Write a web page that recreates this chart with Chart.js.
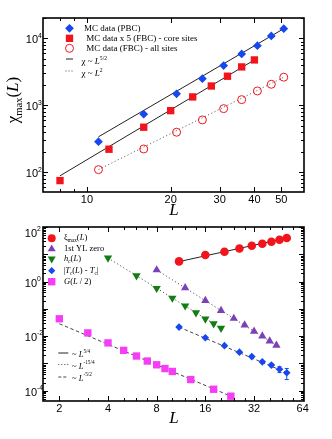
<!DOCTYPE html>
<html>
<head>
<meta charset="utf-8">
<script src="https://cdn.jsdelivr.net/npm/chart.js@4.4.1/dist/chart.umd.min.js"></script>
<style>
    html, body { margin: 0; padding: 0; background: #fff; }
    #wrap { position: relative; width: 332px; height: 439px; }
    .box { position: absolute; left: 0; width: 332px; }
    #top { top: 0; height: 220px; }
    #bot { top: 220px; height: 219px; }
</style>
</head>
<body>
<div id="wrap">
    <div class="box" id="top"><canvas id="chi-chart"></canvas></div>
    <div class="box" id="bot"><canvas id="scaling-chart"></canvas></div>
</div>
<script>
// ---- top panel: chi_max(L) ----
const L_pbc = [11, 16, 21, 26, 31, 36, 41, 46, 51];
const chi_pbc = [288, 740, 1490, 2510, 3930, 5870, 7810, 10900, 14000];
const L_fbc = [8, 12, 16, 20, 24, 28, 32, 36, 40];
const chi_fbc_core = [75.5, 222, 473, 836, 1340, 1950, 2730, 3760, 4780];
const chi_fbc_all = [110, 224, 398, 608, 896, 1220, 1645, 2070, 2640];
// fitted power laws (end points)
const fit52_pbc_L = [11, 51], fit52_pbc = [340, 14000];
const fit52_fbc_L = [8, 40], fit52_fbc = [89, 4780];
const fit2_L = [11, 51], fit2 = [110, 2640];
// ticks
const topXMajor = [10, 20, 30, 40, 50];
const topXMinor = [8, 9];
const topYMajor = [100, 1000, 10000];
const topYExp = ['2', '3', '4'];

// ---- bottom panel: scaling of several quantities ----
const L_xi = [11, 16, 21, 26, 31, 36, 41, 46, 51];
const xi_max = [5.5, 9.4, 12.4, 16.4, 20.6, 24.4, 28.8, 34.1, 39.4];
const L_yl = [8, 12, 16, 20, 24, 28, 32, 36, 40, 44];
const yl_zero = [2.67, 0.589, 0.203, 0.0875, 0.0447, 0.0254, 0.015, 0.0101, 0.00663, 0.00461];
const L_hc = [4, 6, 8, 10, 12, 14, 16, 18, 20];
const h_c = [7.33, 1.66, 0.569, 0.25, 0.13, 0.0727, 0.0428, 0.0286, 0.0196];
const L_tc = [11, 16, 21, 26, 31, 36, 41, 46, 51];
const tc_shift = [0.0215, 0.00881, 0.0045, 0.0026, 0.00179, 0.00115, 0.000874, 0.000614, 0.000458];
const tc_err = [0, 0, 0, 0, 0.0001, 0.0001, 0.00012, 0.00015, 0.0002];
const L_g = [2, 3, 4, 5, 6, 7, 8, 9, 10, 13, 18, 23];
const g_half = [0.0435, 0.0132, 0.00569, 0.00303, 0.00188, 0.00123, 0.000897, 0.000652, 0.000511, 0.000258, 0.000114, 0.0000635];
// fitted power laws (end points)
const fit54_L = [11, 51], fit54 = [5.4, 39.5];
const fitYl_L = [8, 44], fitYl = [2.67, 0.00461];
const fitHc_L = [4, 20], fitHc = [7.33, 0.0196];
const fitTc_L = [11, 51], fitTc = [0.0215, 0.000458];
const fitG_L = [2, 23.5], fitG = [0.0286, 0.0000602];
// ticks
const botXMajor = [2, 4, 8, 16, 32, 64];
const botXMinor = [3, 5, 6, 7, 10, 12, 14, 20, 24, 28, 40, 48, 56];
const botYLabeled = [100, 1, 0.01, 0.0001];
const botYExp = ['2', '0', '-2', '-4'];

const BLUE = '#1747ef', RED = '#f2141c', PURPLE = '#7c40b8', GREEN = '#127d12', MAGENTA = '#f53df5';
const SERIF = '"Liberation Serif", "Times New Roman", serif';
const SANS = '"Liberation Sans", Arial, sans-serif';

const pts = (xs, ys) => xs.map((x, i) => ({ x: x, y: ys[i] }));

// text made of pieces: flags i = italic, b = subscript, p = superscript
function richWidth(ctx, parts, size, fam) {
    let w = 0;
    parts.forEach(p => {
        const f = p[1] || '';
        const s = /[bp]/.test(f) ? size * 0.62 : size;
        ctx.font = (f.includes('i') ? 'italic ' : '') + s + 'px ' + fam;
        w += ctx.measureText(p[0]).width;
    });
    return w;
}
function drawRich(ctx, parts, x, y, size, fam, align) {
    let cx = x;
    if (align === 'right') cx = x - richWidth(ctx, parts, size, fam);
    if (align === 'center') cx = x - richWidth(ctx, parts, size, fam) / 2;
    ctx.textAlign = 'left';
    ctx.textBaseline = 'middle';
    parts.forEach(p => {
        const f = p[1] || '';
        const s = /[bp]/.test(f) ? size * 0.62 : size;
        ctx.font = (f.includes('i') ? 'italic ' : '') + s + 'px ' + fam;
        const dy = f.includes('b') ? size * 0.32 : f.includes('p') ? -size * 0.42 : 0;
        ctx.fillText(p[0], cx, y + dy);
        cx += ctx.measureText(p[0]).width;
    });
}

function decadeMinors(lo, hi) {
    const out = [];
    for (let e = Math.floor(Math.log10(lo)); e <= Math.ceil(Math.log10(hi)); e++) {
        for (let m = 2; m <= 9; m++) {
            const v = m * Math.pow(10, e);
            if (v > lo && v < hi) out.push(v);
        }
    }
    return out;
}

// frame, inward ticks, tick labels, titles and legends
const framePlugin = {
    id: 'frame',
    beforeDatasetsDraw(chart, args, o) {
        if (!o.errors) return;
        const ctx = chart.ctx, xs = chart.scales.x, ys = chart.scales.y;
        ctx.save();
        ctx.strokeStyle = o.errors.color;
        ctx.lineWidth = 1;
        o.errors.x.forEach((lx, i) => {
            const e = o.errors.err[i];
            if (!e) return;
            const v = o.errors.y[i];
            const px = xs.getPixelForValue(lx);
            const y1 = ys.getPixelForValue(v + e), y2 = ys.getPixelForValue(v - e);
            ctx.beginPath();
            ctx.moveTo(px, y1); ctx.lineTo(px, y2);
            ctx.moveTo(px - 2, y1); ctx.lineTo(px + 2, y1);
            ctx.moveTo(px - 2, y2); ctx.lineTo(px + 2, y2);
            ctx.stroke();
        });
        ctx.restore();
    },
    afterDatasetsDraw(chart, args, o) {
        const ctx = chart.ctx, a = chart.chartArea, xs = chart.scales.x, ys = chart.scales.y;
        ctx.save();
        ctx.strokeStyle = '#000';
        ctx.fillStyle = '#000';
        ctx.lineWidth = 1;
        const xTick = (v, len) => {
            const px = Math.round(xs.getPixelForValue(v)) + 0.5;
            ctx.beginPath();
            ctx.moveTo(px, a.bottom); ctx.lineTo(px, a.bottom - len);
            ctx.moveTo(px, a.top); ctx.lineTo(px, a.top + len);
            ctx.stroke();
        };
        const yTick = (v, len) => {
            const py = Math.round(ys.getPixelForValue(v)) + 0.5;
            ctx.beginPath();
            ctx.moveTo(a.left, py); ctx.lineTo(a.left + len, py);
            ctx.moveTo(a.right, py); ctx.lineTo(a.right - len, py);
            ctx.stroke();
        };
        o.xMajor.forEach(v => xTick(v, 5));
        o.xMinor.forEach(v => xTick(v, 3));
        o.yMajor.forEach(v => yTick(v, 5));
        decadeMinors(ys.min, ys.max).forEach(v => yTick(v, 3));
        ctx.lineWidth = 1.6;
        ctx.strokeRect(a.left, a.top, a.right - a.left, a.bottom - a.top);

        // tick labels
        o.xMajor.forEach(v => {
            drawRich(ctx, [[String(v)]], xs.getPixelForValue(v), a.bottom + 8, 11, SANS, 'center');
        });
        o.yLabels.forEach((v, i) => {
            const py = Math.max(ys.getPixelForValue(v) + 2, a.top + 7);
            drawRich(ctx, [['10']], o.yLabelX, py, 11, SANS, 'right');
            drawRich(ctx, [[o.yExp[i], 'p']], o.yLabelX, py, 11, SANS, 'left');
        });

        // axis titles
        drawRich(ctx, [['L', 'i']], o.xTitle[0], o.xTitle[1], 17, SERIF, 'center');
        if (o.yTitle) {
            ctx.save();
            ctx.translate(o.yTitle.x, o.yTitle.y);
            ctx.rotate(-Math.PI / 2);
            drawRich(ctx, o.yTitle.parts, 0, 0, 17, SERIF, 'center');
            ctx.restore();
        }

        // legends
        o.legend.forEach(item => {
            ctx.save();
            if (item.marker) {
                const m = item.marker;
                ctx.fillStyle = m.fill || 'rgba(0,0,0,0)';
                ctx.strokeStyle = m.stroke || m.fill;
                ctx.lineWidth = m.stroke ? 1 : 0;
                Chart.helpers.drawPoint(ctx, {
                    pointStyle: m.style, radius: m.r, rotation: m.rot || 0,
                    borderWidth: m.stroke ? 1 : 0
                }, item.mx, item.my);
            }
            if (item.line) {
                ctx.strokeStyle = item.line.color;
                ctx.lineWidth = 1;
                ctx.setLineDash(item.line.dash);
                ctx.beginPath();
                ctx.moveTo(item.mx - item.line.w / 2, item.my);
                ctx.lineTo(item.mx + item.line.w / 2, item.my);
                ctx.stroke();
            }
            ctx.restore();
            ctx.fillStyle = '#000';
            drawRich(ctx, item.text, item.tx, item.ty, item.size, SERIF, 'left');
        });
        ctx.restore();
    }
};

function baseOptions(pad, xRange, yRange, frame) {
    return {
        responsive: true,
        maintainAspectRatio: false,
        animation: false,
        events: [],
        layout: { padding: pad },
        scales: {
            x: { type: 'logarithmic', display: false, min: xRange[0], max: xRange[1] },
            y: { type: 'logarithmic', display: false, min: yRange[0], max: yRange[1] }
        },
        plugins: { legend: { display: false }, tooltip: { enabled: false }, frame: frame }
    };
}

function markerSet(data, style, r, color, extra) {
    return Object.assign({
        data: data, showLine: false, pointStyle: style, pointRadius: r,
        pointBackgroundColor: color, pointBorderColor: color, pointBorderWidth: 0
    }, extra || {});
}
function lineSet(data, color, dash) {
    return {
        data: data, showLine: true, pointRadius: 0, borderColor: color,
        borderWidth: 1, borderDash: dash, fill: false
    };
}

// Top chart
new Chart(document.getElementById('chi-chart'), {
    type: 'scatter',
    data: {
        datasets: [
            markerSet(pts(L_pbc, chi_pbc), 'rectRot', 4.4, BLUE),
            markerSet(pts(L_fbc, chi_fbc_core), 'rect', 5.2, RED),
            markerSet(pts(L_pbc, chi_fbc_all), 'circle', 4, 'rgba(0,0,0,0)', { pointBorderColor: RED, pointBorderWidth: 1 }),
            lineSet(pts(fit52_pbc_L, fit52_pbc), '#222', []),
            lineSet(pts(fit52_fbc_L, fit52_fbc), '#222', []),
            lineSet(pts(fit2_L, fit2), '#666', [1.2, 2.4])
        ]
    },
    plugins: [framePlugin],
    options: baseOptions({ left: 43, right: 28, top: 18, bottom: 28 }, [6.95, 60.3], [51, 20200], {
        xMajor: topXMajor, xMinor: topXMinor, yMajor: topYMajor,
        yLabels: topYMajor, yExp: topYExp, yLabelX: 38,
        xTitle: [174, 211],
        yTitle: { x: 14, y: 100, parts: [['χ'], ['max', 'b'], ['('], ['L', 'i'], [')']] },
        legend: [
            { marker: { style: 'rectRot', r: 4.4, fill: BLUE }, mx: 69.5, my: 28.3, text: [['MC data (PBC)']], tx: 84, ty: 28.3, size: 9 },
            { marker: { style: 'rect', r: 5.2, fill: RED }, mx: 69.5, my: 38.3, text: [[' MC data x 5 (FBC) - core sites']], tx: 84, ty: 38.3, size: 9 },
            { marker: { style: 'circle', r: 4, stroke: RED }, mx: 69.5, my: 48.3, text: [[' MC data (FBC) - all sites']], tx: 84, ty: 48.3, size: 9 },
            { line: { color: '#222', dash: [], w: 7 }, mx: 69.5, my: 59, text: [['χ ~ '], ['L', 'i'], ['5/2', 'p']], tx: 81.5, ty: 62, size: 9 },
            { line: { color: '#444', dash: [1, 2], w: 8 }, mx: 69.5, my: 71, text: [['χ ~ '], ['L', 'i'], ['2', 'p']], tx: 81.5, ty: 74, size: 9 }
        ]
    })
});

// Bottom chart
new Chart(document.getElementById('scaling-chart'), {
    type: 'scatter',
    data: {
        datasets: [
            markerSet(pts(L_xi, xi_max), 'circle', 4.3, RED),
            markerSet(pts(L_yl, yl_zero), 'triangle', 4.8, PURPLE),
            markerSet(pts(L_hc, h_c), 'triangle', 4.8, GREEN, { pointRotation: 180 }),
            markerSet(pts(L_tc, tc_shift), 'rectRot', 3.8, BLUE),
            markerSet(pts(L_g, g_half), 'rect', 5.2, MAGENTA),
            lineSet(pts(fit54_L, fit54), '#222', []),
            lineSet(pts(fitYl_L, fitYl), '#555', [1.2, 2.4]),
            lineSet(pts(fitHc_L, fitHc), '#555', [1.2, 2.4]),
            lineSet(pts(fitTc_L, fitTc), '#444', [3.5, 2.5]),
            lineSet(pts(fitG_L, fitG), '#444', [3.5, 2.5])
        ]
    },
    plugins: [framePlugin],
    options: baseOptions({ left: 43, right: 28, top: 7, bottom: 38 }, [1.585, 65.2], [4.23e-5, 100], {
        xMajor: botXMajor, xMinor: botXMinor,
        yMajor: [100, 10, 1, 0.1, 0.01, 0.001, 0.0001],
        yLabels: botYLabeled, yExp: botYExp, yLabelX: 37,
        xTitle: [174, 198.5],
        errors: { x: L_tc, y: tc_shift, err: tc_err, color: BLUE },
        legend: [
            { marker: { style: 'circle', r: 4, fill: RED }, mx: 51.7, my: 18.3, text: [['ξ'], ['max', 'b'], ['('], ['L', 'i'], [')']], tx: 64, ty: 17.5, size: 8.5 },
            { marker: { style: 'triangle', r: 4.6, fill: PURPLE }, mx: 51.7, my: 29, text: [['1st YL zero']], tx: 64, ty: 29, size: 8.5 },
            { marker: { style: 'triangle', r: 4.6, fill: GREEN, rot: 180 }, mx: 51.7, my: 38.8, text: [['h', 'i'], ['c', 'ib'], ['('], ['L', 'i'], [')']], tx: 64, ty: 38.5, size: 8.5 },
            { marker: { style: 'rectRot', r: 3.6, fill: BLUE }, mx: 51.7, my: 50.7, text: [['|'], ['T', 'i'], ['c', 'b'], ['('], ['L', 'i'], [') - '], ['T', 'i'], ['c', 'b'], ['|']], tx: 63.5, ty: 50.5, size: 8.5 },
            { marker: { style: 'rect', r: 5.2, fill: MAGENTA }, mx: 51.7, my: 61.7, text: [['G', 'i'], ['('], ['L', 'i'], [' / 2)']], tx: 64, ty: 61.7, size: 8.5 },
            { line: { color: '#222', dash: [], w: 10 }, mx: 63.3, my: 133, text: [['~ '], ['L', 'i'], ['5/4', 'p']], tx: 72, ty: 135, size: 8.5 },
            { line: { color: '#444', dash: [1, 2], w: 10 }, mx: 63.3, my: 144.5, text: [['~ '], ['L', 'i'], ['-15/4', 'p']], tx: 72, ty: 146.5, size: 8.5 },
            { line: { color: '#444', dash: [3, 2], w: 10 }, mx: 63.3, my: 157, text: [['~ '], ['L', 'i'], ['-5/2', 'p']], tx: 72, ty: 158.5, size: 8.5 }
        ]
    })
});
</script>
</body>
</html>
